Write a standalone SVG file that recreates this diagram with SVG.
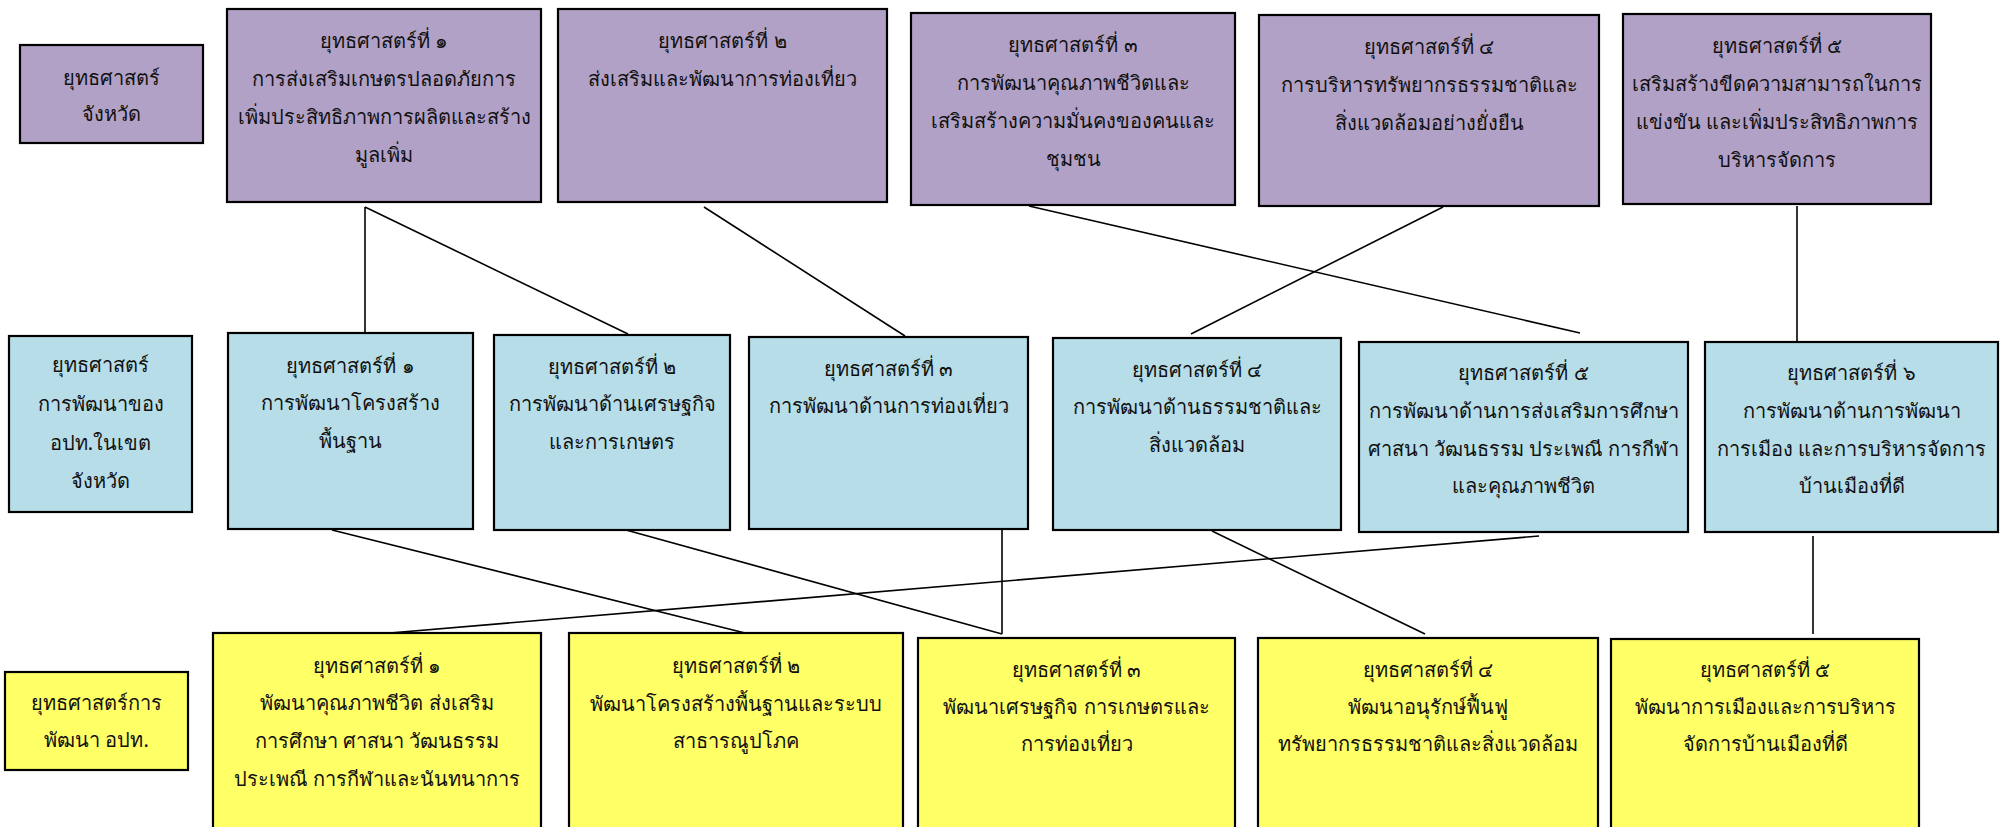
<svg xmlns="http://www.w3.org/2000/svg" width="2002" height="827" viewBox="0 0 2002 827">
<style>
.p{fill:#B2A1C7;stroke:#000;stroke-width:2.2}
.b{fill:#B7DDE8;stroke:#000;stroke-width:2.2}
.y{fill:#FFFF66;stroke:#000;stroke-width:2.2}
text{font-family:"Noto Sans","DejaVu Sans",sans-serif;font-size:20px;fill:#111;text-anchor:middle}
.c line{stroke:#000;stroke-width:1.6}
</style>
<rect width="2002" height="827" fill="#fff"/>
<g class="c" id="connectors">
<line x1="365" y1="207" x2="365" y2="333"/>
<line x1="365" y1="207" x2="628" y2="334"/>
<line x1="704" y1="207" x2="905" y2="336"/>
<line x1="1029" y1="206" x2="1580" y2="333"/>
<line x1="1443" y1="207" x2="1191" y2="334"/>
<line x1="1797" y1="206" x2="1797" y2="341"/>
<line x1="332" y1="530" x2="749" y2="634"/>
<line x1="626" y1="530" x2="1002" y2="634"/>
<line x1="1002" y1="530" x2="1002" y2="634"/>
<line x1="1539" y1="536" x2="378" y2="634"/>
<line x1="1212" y1="531" x2="1425" y2="634"/>
<line x1="1813" y1="536" x2="1813" y2="634"/>
</g>
<g id="p0"><rect class="p" x="20" y="45" width="183" height="98"/><text><tspan x="111.5" y="85">ยุทธศาสตร์</tspan><tspan x="111.5" y="121">จังหวัด</tspan></text></g>
<g id="p1"><rect class="p" x="227" y="9" width="314" height="193"/><text><tspan x="384" y="48">ยุทธศาสตร์ที่ ๑</tspan><tspan x="384" y="86">การส่งเสริมเกษตรปลอดภัยการ</tspan><tspan x="384" y="124">เพิ่มประสิทธิภาพการผลิตและสร้าง</tspan><tspan x="384" y="162">มูลเพิ่ม</tspan></text></g>
<g id="p2"><rect class="p" x="558" y="9" width="329" height="193"/><text><tspan x="722.5" y="48">ยุทธศาสตร์ที่ ๒</tspan><tspan x="722.5" y="86">ส่งเสริมและพัฒนาการท่องเที่ยว</tspan></text></g>
<g id="p3"><rect class="p" x="911" y="13" width="324" height="192"/><text><tspan x="1073" y="52">ยุทธศาสตร์ที่ ๓</tspan><tspan x="1073" y="90">การพัฒนาคุณภาพชีวิตและ</tspan><tspan x="1073" y="128">เสริมสร้างความมั่นคงของคนและ</tspan><tspan x="1073" y="166">ชุมชน</tspan></text></g>
<g id="p4"><rect class="p" x="1259" y="15" width="340" height="191"/><text><tspan x="1429" y="54">ยุทธศาสตร์ที่ ๔</tspan><tspan x="1429" y="92">การบริหารทรัพยากรธรรมชาติและ</tspan><tspan x="1429" y="130">สิ่งแวดล้อมอย่างยั่งยืน</tspan></text></g>
<g id="p5"><rect class="p" x="1623" y="14" width="308" height="190"/><text><tspan x="1777" y="53">ยุทธศาสตร์ที่ ๕</tspan><tspan x="1777" y="91">เสริมสร้างขีดความสามารถในการ</tspan><tspan x="1777" y="129">แข่งขัน และเพิ่มประสิทธิภาพการ</tspan><tspan x="1777" y="167">บริหารจัดการ</tspan></text></g>
<g id="b0"><rect class="b" x="9" y="336" width="183" height="176"/><text><tspan x="100.5" y="372">ยุทธศาสตร์</tspan><tspan x="100.5" y="411">การพัฒนาของ</tspan><tspan x="100.5" y="450">อปท.ในเขต</tspan><tspan x="100.5" y="488">จังหวัด</tspan></text></g>
<g id="b1"><rect class="b" x="228" y="333" width="245" height="196"/><text><tspan x="350.5" y="373">ยุทธศาสตร์ที่ ๑</tspan><tspan x="350.5" y="410">การพัฒนาโครงสร้าง</tspan><tspan x="350.5" y="448">พื้นฐาน</tspan></text></g>
<g id="b2"><rect class="b" x="494" y="335" width="236" height="195"/><text><tspan x="612" y="374">ยุทธศาสตร์ที่ ๒</tspan><tspan x="612" y="411">การพัฒนาด้านเศรษฐกิจ</tspan><tspan x="612" y="449">และการเกษตร</tspan></text></g>
<g id="b3"><rect class="b" x="749" y="337" width="279" height="192"/><text><tspan x="888.5" y="376">ยุทธศาสตร์ที่ ๓</tspan><tspan x="888.5" y="413">การพัฒนาด้านการท่องเที่ยว</tspan></text></g>
<g id="b4"><rect class="b" x="1053" y="338" width="288" height="192"/><text><tspan x="1197" y="377">ยุทธศาสตร์ที่ ๔</tspan><tspan x="1197" y="414">การพัฒนาด้านธรรมชาติและ</tspan><tspan x="1197" y="452">สิ่งแวดล้อม</tspan></text></g>
<g id="b5"><rect class="b" x="1359" y="342" width="329" height="190"/><text><tspan x="1523.5" y="380">ยุทธศาสตร์ที่ ๕</tspan><tspan x="1523.5" y="418">การพัฒนาด้านการส่งเสริมการศึกษา</tspan><tspan x="1523.5" y="456">ศาสนา วัฒนธรรม ประเพณี การกีฬา</tspan><tspan x="1523.5" y="493">และคุณภาพชีวิต</tspan></text></g>
<g id="b6"><rect class="b" x="1705" y="342" width="293" height="190"/><text><tspan x="1851.5" y="380">ยุทธศาสตร์ที่ ๖</tspan><tspan x="1851.5" y="418">การพัฒนาด้านการพัฒนา</tspan><tspan x="1851.5" y="456">การเมือง และการบริหารจัดการ</tspan><tspan x="1851.5" y="493">บ้านเมืองที่ดี</tspan></text></g>
<g id="y0"><rect class="y" x="5" y="672" width="183" height="98"/><text><tspan x="96.5" y="710">ยุทธศาสตร์การ</tspan><tspan x="96.5" y="747">พัฒนา อปท.</tspan></text></g>
<g id="y1"><rect class="y" x="213" y="633" width="328" height="220"/><text><tspan x="377" y="673">ยุทธศาสตร์ที่ ๑</tspan><tspan x="377" y="710">พัฒนาคุณภาพชีวิต ส่งเสริม</tspan><tspan x="377" y="748">การศึกษา ศาสนา วัฒนธรรม</tspan><tspan x="377" y="786">ประเพณี การกีฬาและนันทนาการ</tspan></text></g>
<g id="y2"><rect class="y" x="569" y="633" width="334" height="220"/><text><tspan x="736" y="673">ยุทธศาสตร์ที่ ๒</tspan><tspan x="736" y="711">พัฒนาโครงสร้างพื้นฐานและระบบ</tspan><tspan x="736" y="748">สาธารณูปโภค</tspan></text></g>
<g id="y3"><rect class="y" x="918" y="638" width="317" height="220"/><text><tspan x="1076.5" y="677">ยุทธศาสตร์ที่ ๓</tspan><tspan x="1076.5" y="714">พัฒนาเศรษฐกิจ การเกษตรและ</tspan><tspan x="1076.5" y="751">การท่องเที่ยว</tspan></text></g>
<g id="y4"><rect class="y" x="1258" y="638" width="340" height="220"/><text><tspan x="1428" y="677">ยุทธศาสตร์ที่ ๔</tspan><tspan x="1428" y="714">พัฒนาอนุรักษ์ฟื้นฟู</tspan><tspan x="1428" y="751">ทรัพยากรธรรมชาติและสิ่งแวดล้อม</tspan></text></g>
<g id="y5"><rect class="y" x="1611" y="639" width="308" height="220"/><text><tspan x="1765" y="677">ยุทธศาสตร์ที่ ๕</tspan><tspan x="1765" y="714">พัฒนาการเมืองและการบริหาร</tspan><tspan x="1765" y="751">จัดการบ้านเมืองที่ดี</tspan></text></g>
</svg>
